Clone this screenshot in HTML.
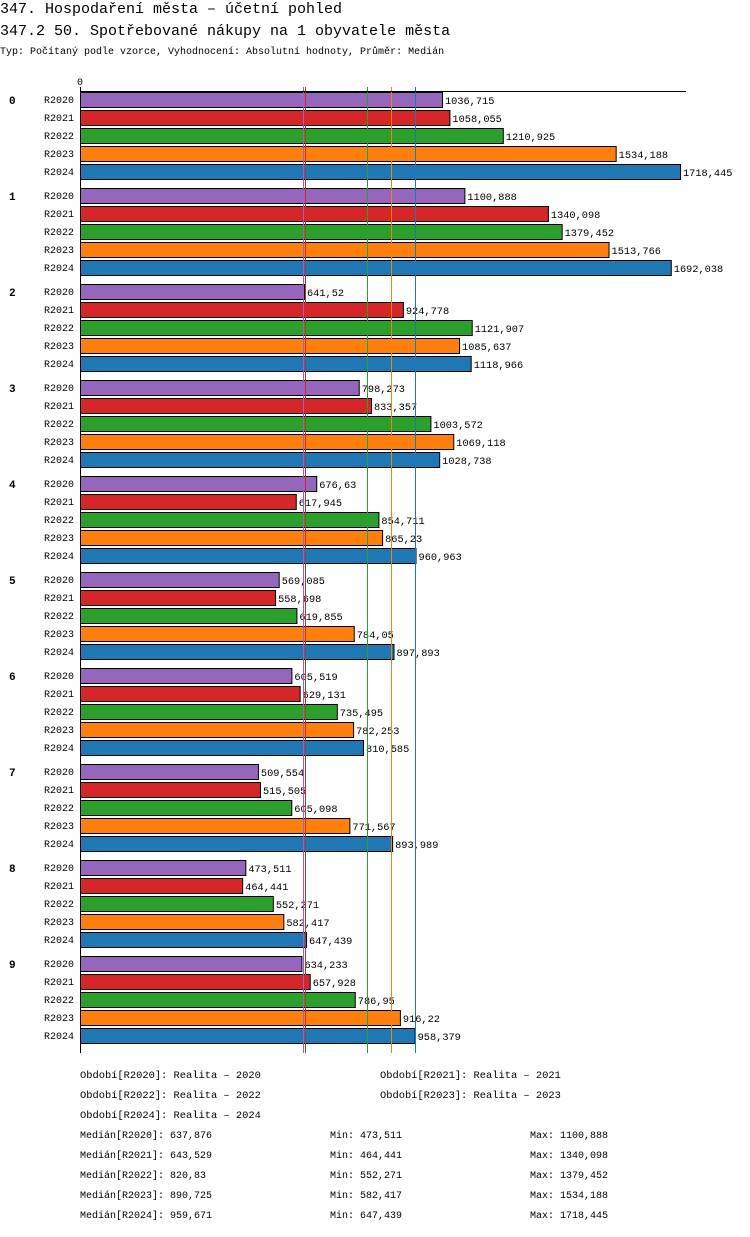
<!DOCTYPE html>
<html><head><meta charset="utf-8"><style>
body{margin:0;background:#fff;width:750px;height:1232px;overflow:hidden;font-family:"Liberation Mono",monospace;}
svg text{font-family:"Liberation Mono",monospace;}
</style></head><body>
<svg id="c" width="750" height="1232" xmlns="http://www.w3.org/2000/svg">
<text x="0" y="13" font-size="15">347. Hospodaření města – účetní pohled</text>
<text x="0" y="35" font-size="15">347.2 50. Spotřebované nákupy na 1 obyvatele města</text>
<text x="0" y="54" font-size="10">Typ: Počítaný podle vzorce, Vyhodnocení: Absolutní hodnoty, Průměr: Medián</text>
<g id="g"></g>
</svg>
<script>
const groups=["0","1","2","3","4","5","6","7","8","9"];
const series=["R2020","R2021","R2022","R2023","R2024"];
const colors=["#9467bd","#d62728","#2ca02c","#ff7f0e","#1f77b4"];
const v2020=[1036.715,1100.888,641.52,798.273,676.63,569.085,605.519,509.554,473.511,634.233];
const v2021=[1058.055,1340.098,924.778,833.357,617.945,558.698,629.131,515.505,464.441,657.928];
const v2022=[1210.925,1379.452,1121.907,1003.572,854.711,619.855,735.495,605.098,552.271,786.95];
const v2023=[1534.188,1513.766,1085.637,1069.118,865.23,784.05,782.253,771.567,582.417,916.22];
const v2024=[1718.445,1692.038,1118.966,1028.738,960.963,897.893,810.585,893.989,647.439,958.379];
const medians=[637.876,643.529,820.83,890.725,959.671];
const mins=[473.511,464.441,552.271,582.417,647.439];
const maxs=[1100.888,1340.098,1379.452,1534.188,1718.445];
const vals=[v2020,v2021,v2022,v2023,v2024];
const NS="http://www.w3.org/2000/svg";
const g=document.getElementById('g');
const x=v=>80+v*600/1718.445;
const fmt=v=>String(v).replace('.',',');
function mk(t,a,p){const e=document.createElementNS(NS,t);for(const k in a)e.setAttribute(k,a[k]);(p||g).appendChild(e);return e;}
let t=mk('text',{x:77,y:85,'font-size':10});t.textContent='0';


groups.forEach((gr,i)=>{
  const top=92+i*96;
  let l=mk('text',{x:9,y:top+12,'font-size':11,'font-weight':'bold'});l.textContent=gr;
  
  
  series.forEach((s,j)=>{
    const y=top+j*18,v=vals[j][i];
    let sl=mk('text',{x:44,y:y+11,'font-size':10});sl.textContent=s;
    
    
    let r=mk('rect',{x:80.5,y:y+0.5,width:x(v)-80,height:15,fill:colors[j],stroke:'#000','stroke-width':1});
    
    
    let vl=mk('text',{x:x(v)+3,y:y+12,'font-size':10.3});vl.textContent=fmt(v);
    
    
  });
});
medians.forEach((m,j)=>{
  let ln=mk('rect',{x:Math.round(x(m)),y:87,width:1,height:966,fill:colors[j]});
  
  
});
let ax=mk('rect',{x:80,y:91,width:606,height:1,fill:'#000'});


let ay=mk('rect',{x:80,y:87,width:1,height:966,fill:'#000'});


const periods=["Realita – 2020","Realita – 2021","Realita – 2022","Realita – 2023","Realita – 2024"];
periods.forEach((p,j)=>{
  const col=j%2,row=Math.floor(j/2);
  let e=mk('text',{x:col?380:80,y:1078+row*20,'font-size':10.4});e.textContent='Období['+series[j]+']: '+p;
  
  
});
series.forEach((s,j)=>{
  const y=1138+j*20;
  let a=mk('text',{x:80,y:y,'font-size':10});a.textContent='Medián['+s+']: '+fmt(medians[j]);
  
  
  let b=mk('text',{x:330,y:y,'font-size':10});b.textContent='Min: '+fmt(mins[j]);
  
  
  let c=mk('text',{x:530,y:y,'font-size':10});c.textContent='Max: '+fmt(maxs[j]);
  
  
});
</script>
</body></html>
